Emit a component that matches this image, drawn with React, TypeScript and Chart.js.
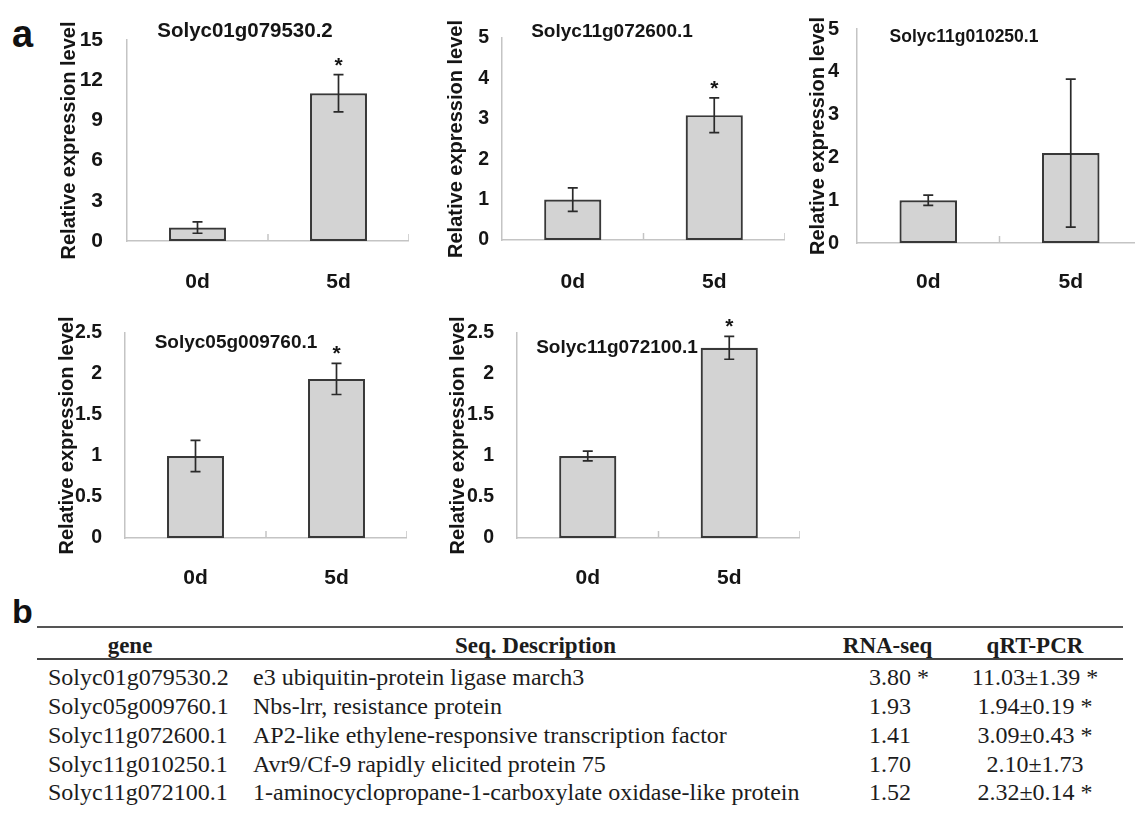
import React, { useEffect, useRef } from 'react';
import { Chart, registerables } from 'chart.js';

Chart.register(...registerables);

// ---------- chart data ----------
const categories = ['0d', '5d'];
const geneTitles = ['Solyc01g079530.2', 'Solyc11g072600.1', 'Solyc11g010250.1', 'Solyc05g009760.1', 'Solyc11g072100.1'];
const controlMeans = [1, 1, 1, 1, 1];
const treatedMeans = [11.03, 3.09, 2.1, 1.94, 2.32];
const controlErrs = [0.42, 0.29, 0.12, 0.19, 0.06];
const treatedErrs = [1.39, 0.43, 1.73, 0.19, 0.14];
const treatedSignificant = [true, true, false, true, true];
const yMaxes = [15, 5, 5, 2.5, 2.5];
const ySteps = [3, 1, 1, 0.5, 0.5];
const yAxisTitle = 'Relative expression level';

// ---------- table data ----------
const tableHeaders = ['gene', 'Seq. Description', 'RNA-seq', 'qRT-PCR'];
const tableGenes = ['Solyc01g079530.2', 'Solyc05g009760.1', 'Solyc11g072600.1', 'Solyc11g010250.1', 'Solyc11g072100.1'];
const tableDescriptions = [
  'e3 ubiquitin-protein ligase march3',
  'Nbs-lrr, resistance protein',
  'AP2-like ethylene-responsive transcription factor',
  'Avr9/Cf-9 rapidly elicited protein 75',
  '1-aminocyclopropane-1-carboxylate oxidase-like protein',
];
const tableRnaSeq = ['3.80 *', '1.93', '1.41', '1.70', '1.52'];
const tableQrtPcr = ['11.03±1.39 *', '1.94±0.19 *', '3.09±0.43 *', '2.10±1.73', '2.32±0.14 *'];

// ---------- layout (page px) ----------
type PanelLayout = {
  area: [number, number, number, number]; // left, right, top, bottom of plot area
  yTitleX: number;
  tickGap: number;
  tickSize: number;
  labelCenterOffset: number;
  titleDx: number;
  titleDy: number;
  titleSize: number;
  canvasTop: number;
  canvasH: number;
};
const panelLayouts: PanelLayout[] = [
  { area: [127, 409, 40, 241], yTitleX: 69, tickGap: 16, tickSize: 21, labelCenterOffset: 33.5, titleDx: 118, titleDy: -9, titleSize: 20.5, canvasTop: 0, canvasH: 295 },
  { area: [502, 785, 38, 240], yTitleX: 456, tickGap: 5, tickSize: 19.5, labelCenterOffset: 34.5, titleDx: 110, titleDy: -6, titleSize: 19, canvasTop: 0, canvasH: 295 },
  { area: [857, 1142, 29, 243], yTitleX: 818, tickGap: 10, tickSize: 20, labelCenterOffset: 31.5, titleDx: 107, titleDy: 8, titleSize: 17.5, canvasTop: 0, canvasH: 295 },
  { area: [125, 407, 333, 538], yTitleX: 67, tickGap: 15, tickSize: 19.5, labelCenterOffset: 32.5, titleDx: 111, titleDy: 10, titleSize: 19, canvasTop: 295, canvasH: 300 },
  { area: [517, 800, 333, 538], yTitleX: 458, tickGap: 15, tickSize: 19.5, labelCenterOffset: 32.5, titleDx: 100, titleDy: 15, titleSize: 19, canvasTop: 295, canvasH: 300 },
];

const SANS = '"Liberation Sans", Arial, Helvetica, sans-serif';
const SERIF = '"Liberation Serif", "Times New Roman", Times, serif';
const AXIS_COLOR = '#c4c4c4';
const TEXT_COLOR = '#151515';
const BAR_FILL = '#d3d3d3';
const BAR_EDGE = '#383838';
const Y_TITLE_SIZE = 20;
const X_LABEL_SIZE = 21;

function canvasGeom(p: PanelLayout) {
  const left = p.yTitleX - (Y_TITLE_SIZE * 1.2) / 2;
  const width = p.area[1] - left;
  return { left, top: p.canvasTop, width, height: p.canvasH };
}

function makeDecorPlugin(idx: number, p: PanelLayout) {
  return {
    id: 'panelDecor' + idx,
    afterDatasetsDraw(chart: any) {
      const ctx = chart.ctx as CanvasRenderingContext2D;
      const xs = chart.scales.x;
      const ys = chart.scales.y;
      const area = chart.chartArea;
      ctx.save();
      // inward category-boundary ticks
      ctx.strokeStyle = AXIS_COLOR;
      ctx.lineWidth = 1.5;
      categories.forEach((_, i) => {
        const px = xs.getPixelForValue(i + 0.5);
        ctx.beginPath();
        ctx.moveTo(px, area.bottom);
        ctx.lineTo(px, area.bottom - 7);
        ctx.stroke();
      });
      // error bars + significance
      const means = [controlMeans[idx], treatedMeans[idx]];
      const errs = [controlErrs[idx], treatedErrs[idx]];
      const sig = [false, treatedSignificant[idx]];
      const meta = chart.getDatasetMeta(0);
      ctx.strokeStyle = '#2a2a2a';
      ctx.lineWidth = 1.7;
      meta.data.forEach((bar: any, i: number) => {
        const x = bar.x;
        const yTop = ys.getPixelForValue(means[i] + errs[i]);
        const yBot = ys.getPixelForValue(means[i] - errs[i]);
        ctx.beginPath();
        ctx.moveTo(x, yTop);
        ctx.lineTo(x, yBot);
        ctx.moveTo(x - 5, yTop);
        ctx.lineTo(x + 5, yTop);
        ctx.moveTo(x - 5, yBot);
        ctx.lineTo(x + 5, yBot);
        ctx.stroke();
        if (sig[i]) {
          ctx.fillStyle = TEXT_COLOR;
          ctx.font = `bold 21px ${SANS}`;
          ctx.textAlign = 'center';
          ctx.textBaseline = 'alphabetic';
          ctx.fillText('*', x, yTop - 3);
        }
      });
      // gene title
      ctx.fillStyle = TEXT_COLOR;
      ctx.font = `bold ${p.titleSize}px ${SANS}`;
      ctx.textAlign = 'center';
      ctx.textBaseline = 'middle';
      ctx.fillText(geneTitles[idx], area.left + p.titleDx, area.top + p.titleDy);
      ctx.restore();
    },
  };
}

function Panel({ idx }: { idx: number }) {
  const ref = useRef<HTMLCanvasElement | null>(null);
  const p = panelLayouts[idx];
  const g = canvasGeom(p);
  useEffect(() => {
    if (!ref.current) return;
    const yWidth = p.area[0] - g.left;
    const xHeight = g.top + g.height - p.area[3];
    const chart = new Chart(ref.current, {
      type: 'bar',
      data: {
        labels: categories,
        datasets: [
          {
            data: [controlMeans[idx], treatedMeans[idx]],
            backgroundColor: BAR_FILL,
            borderColor: BAR_EDGE,
            borderWidth: 2.2,
            borderSkipped: false,
            barPercentage: 0.404,
            categoryPercentage: 1,
          },
        ],
      },
      options: {
        animation: false,
        responsive: false,
        devicePixelRatio: 1,
        layout: { padding: { top: p.area[2] - g.top, left: 0, right: 0, bottom: 0 } },
        plugins: { legend: { display: false }, tooltip: { enabled: false } },
        scales: {
          x: {
            grid: { display: false },
            border: { display: true, color: AXIS_COLOR, width: 1.5 },
            ticks: {
              padding: p.labelCenterOffset - (X_LABEL_SIZE * 1.2) / 2,
              color: TEXT_COLOR,
              font: { family: SANS, size: X_LABEL_SIZE, weight: 'bold' },
            },
            afterFit: (s: any) => {
              s.height = xHeight;
            },
          },
          y: {
            min: 0,
            max: yMaxes[idx],
            grid: { display: false },
            border: { display: true, color: AXIS_COLOR, width: 1.5 },
            ticks: {
              stepSize: ySteps[idx],
              padding: p.tickGap,
              color: TEXT_COLOR,
              font: { family: SANS, size: p.tickSize, weight: 'bold' },
              callback: (v: any) => String(Number(v)),
            },
            title: {
              display: true,
              text: yAxisTitle,
              color: TEXT_COLOR,
              padding: 0,
              font: { family: SANS, size: Y_TITLE_SIZE, weight: 'bold', lineHeight: 1.2 },
            },
            afterFit: (s: any) => {
              s.width = yWidth;
            },
          },
        },
      } as any,
      plugins: [makeDecorPlugin(idx, p)],
    });
    return () => chart.destroy();
  }, [idx]);
  return (
    <canvas
      ref={ref}
      width={Math.round(g.width)}
      height={g.height}
      style={{ position: 'absolute', left: g.left, top: g.top, width: Math.round(g.width), height: g.height }}
    />
  );
}

const ROW_H = 30;
const headerCenter = 646;
const rowCenters = [677, 706, 735, 763.5, 792];

function Table() {
  const cell = (text: string, style: React.CSSProperties, key: string) => (
    <div key={key} style={{ position: 'absolute', whiteSpace: 'nowrap', lineHeight: ROW_H + 'px', height: ROW_H, ...style }}>
      {text}
    </div>
  );
  const headerTop = headerCenter - ROW_H / 2;
  const headerStyle: React.CSSProperties = { fontWeight: 'bold', fontSize: 23, textAlign: 'center', width: 300, top: headerTop };
  return (
    <div style={{ position: 'absolute', left: 0, top: 0, fontFamily: SERIF, color: '#1c1c1c' }}>
      <div style={{ position: 'absolute', left: 37, top: 626, width: 1086, height: 1.5, background: '#555' }} />
      <div style={{ position: 'absolute', left: 37, top: 658, width: 1086, height: 2, background: '#444' }} />
      {cell(tableHeaders[0], { ...headerStyle, left: 130 - 150 }, 'h0')}
      {cell(tableHeaders[1], { ...headerStyle, left: 535.5 - 150 }, 'h1')}
      {cell(tableHeaders[2], { ...headerStyle, left: 887.5 - 150 }, 'h2')}
      {cell(tableHeaders[3], { ...headerStyle, left: 1035 - 150 }, 'h3')}
      {tableGenes.map((gname, i) => {
        const top = rowCenters[i] - ROW_H / 2;
        return (
          <React.Fragment key={'r' + i}>
            {cell(gname, { left: 48, top, fontSize: 24 }, 'g' + i)}
            {cell(tableDescriptions[i], { left: 253, top, fontSize: 24 }, 'd' + i)}
            {cell(tableRnaSeq[i], { left: 869, top, fontSize: 24 }, 'n' + i)}
            {cell(tableQrtPcr[i], { left: 935, top, width: 200, textAlign: 'center', fontSize: 24 }, 'q' + i)}
          </React.Fragment>
        );
      })}
    </div>
  );
}

export default function App() {
  return (
    <div
      style={{
        position: 'absolute',
        left: 0,
        top: 0,
        width: 1135,
        height: 813,
        overflow: 'hidden',
        background: '#fff',
      }}
    >
      <div style={{ position: 'absolute', left: 12, top: 15, fontFamily: SANS, fontWeight: 'bold', fontSize: 38, lineHeight: 1, color: '#111' }}>a</div>
      <div style={{ position: 'absolute', left: 12, top: 594, fontFamily: SANS, fontWeight: 'bold', fontSize: 34, lineHeight: 1, color: '#111' }}>b</div>
      {panelLayouts.map((_, i) => (
        <Panel key={i} idx={i} />
      ))}
      <Table />
    </div>
  );
}
